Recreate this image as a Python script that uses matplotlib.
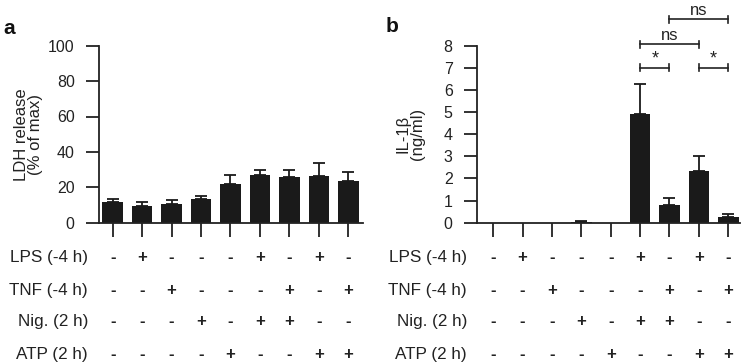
import matplotlib
matplotlib.use("Agg")
import matplotlib.pyplot as plt
import matplotlib.transforms as mtransforms
import numpy as np

plt.rcParams['font.family'] = ['Liberation Sans', 'DejaVu Sans']

# ---- data ----
ldh_mean = [11.9, 9.6, 10.6, 13.6, 21.7, 26.8, 26.0, 26.3, 23.6]
ldh_err = [1.5, 1.9, 2.0, 1.7, 5.4, 3.0, 3.8, 7.2, 5.0]
il1b_mean = [0.0, 0.0, 0.0, 0.05, 0.0, 4.9, 0.82, 2.35, 0.27]
il1b_err = [0.0, 0.0, 0.0, 0.02, 0.0, 1.35, 0.31, 0.67, 0.11]

row_labels = ["LPS (-4 h)", "TNF (-4 h)", "Nig. (2 h)", "ATP (2 h)"]
lps = ["-", "+", "-", "-", "-", "+", "-", "+", "-"]
tnf = ["-", "-", "+", "-", "-", "-", "+", "-", "+"]
nig = ["-", "-", "-", "+", "-", "+", "+", "-", "-"]
atp = ["-", "-", "-", "-", "+", "-", "-", "+", "+"]

# significance brackets: (start bar, end bar, height, label)
sig_start = [5, 7, 5, 6]
sig_end = [6, 8, 7, 8]
sig_y = [7.0, 7.0, 8.07, 9.2]
sig_text = ["*", "*", "ns", "ns"]

W, H = 743, 362
fig = plt.figure(figsize=(W / 100, H / 100), dpi=100)

bar_color = "#1a1a1a"
axis_color = "#222222"
txt_color = "#222222"

def px_ax(left, right, top, bottom):
    return fig.add_axes([left / W, 1 - bottom / H, (right - left) / W, (bottom - top) / H])

ax_a = px_ax(99, 363, 45.7, 222.7)
ax_b = px_ax(477, 740, 45.7, 222.7)

x = np.arange(9)

def style(ax):
    for s in ["top", "right"]:
        ax.spines[s].set_visible(False)
    for s in ["left", "bottom"]:
        ax.spines[s].set_linewidth(1.3)
        ax.spines[s].set_color(axis_color)
    ax.tick_params(axis="y", direction="out", length=9.5, width=1.3, pad=8,
                   labelsize=11.5, colors=axis_color, labelcolor=txt_color)
    ax.tick_params(axis="x", direction="out", length=10, width=1.3,
                   colors=axis_color, labelbottom=False)
    ax.set_xticks(x)

def draw(ax, mean, err):
    ax.bar(x, mean, width=0.70, color=bar_color, zorder=2)
    for xi, m, e in zip(x, mean, err):
        if e > 0:
            ax.errorbar(xi, m, yerr=[[0], [e]], fmt="none", ecolor=bar_color,
                        elinewidth=1.3, capsize=4, capthick=1.3, zorder=1)

# panel a
style(ax_a)
draw(ax_a, ldh_mean, ldh_err)
ax_a.set_xlim(-0.464, 8.5)
ax_a.set_ylim(0, 100)
ax_a.set_yticks([0, 20, 40, 60, 80, 100])
ax_a.set_ylabel("LDH release\n(% of max)", fontsize=12, color=txt_color, linespacing=0.95)
ax_a.yaxis.set_label_coords(-0.212, 0.5)

# panel b
style(ax_b)
draw(ax_b, il1b_mean, il1b_err)
ax_b.set_xlim(-0.55, 8.4)
ax_b.set_ylim(0, 8)
ax_b.set_yticks(range(0, 9))
ax_b.set_ylabel("IL-1β\n(ng/ml)", fontsize=12, color=txt_color, linespacing=0.95)
ax_b.yaxis.set_label_coords(-0.198, 0.5)

# significance brackets
cap_h = 0.16
for s, e, y, t in zip(sig_start, sig_end, sig_y, sig_text):
    ax_b.plot([s, e], [y, y], color=axis_color, lw=1.2, clip_on=False)
    ax_b.plot([s, s], [y - cap_h, y + cap_h], color=axis_color, lw=1.2, clip_on=False)
    ax_b.plot([e, e], [y - cap_h, y + cap_h], color=axis_color, lw=1.2, clip_on=False)
    if t == "*":
        ax_b.text((s + e) / 2, y + 0.0, t, ha="center", va="bottom", fontsize=13,
                  color=txt_color, clip_on=False)
    else:
        ax_b.text((s + e) / 2, y + 0.05, t, ha="center", va="bottom", fontsize=12,
                  color=txt_color, clip_on=False)

# treatment table
rows = [lps, tnf, nig, atp]
row_y = [257.3, 290, 321.7, 354]
for ax, lab_x in [(ax_a, 88), (ax_b, 467)]:
    trans = mtransforms.blended_transform_factory(ax.transData, fig.transFigure)
    for r, yy, lab in zip(rows, row_y, row_labels):
        fig.text(lab_x / W, 1 - yy / H, lab, ha="right", va="center", fontsize=12.3,
                 color=txt_color)
        for xi, sym in zip(x, r):
            ax.text(xi, 1 - yy / H, sym, transform=trans, ha="center", va="center",
                    fontsize=12, fontweight="bold", color=txt_color, clip_on=False)

# panel labels
fig.text(9 / W, 1 - 29 / H, "a", fontsize=15, fontweight="bold", ha="center",
         va="center", color="#111111")
fig.text(392 / W, 1 - 27 / H, "b", fontsize=15, fontweight="bold", ha="center",
         va="center", color="#111111")

fig.savefig("out.png", dpi=100)
